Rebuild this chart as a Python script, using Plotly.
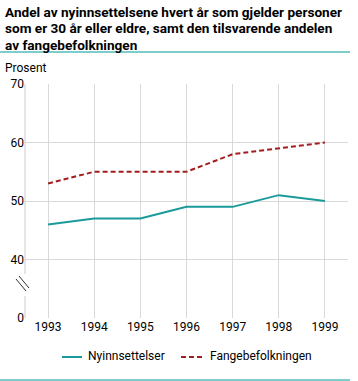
import plotly.graph_objects as go

years = [1993, 1994, 1995, 1996, 1997, 1998, 1999]
nyinnsettelser = [46, 47, 47, 49, 49, 51, 50]
fangebefolkningen = [53, 55, 55, 55, 58, 59, 60]
y_tickvals = [30, 40, 50, 60, 70]
y_ticktext = ["0", "40", "50", "60", "70"]
series_names = ["Nyinnsettelser", "Fangebefolkningen"]
title_lines = [
    "Andel av nyinnsettelsene hvert år som gjelder personer",
    "som er 30 år eller eldre, samt den tilsvarende andelen",
    "av fangebefolkningen",
]

W, H = 358, 381
L, R, T, B = 25, 10, 84, 63
PW, PH = W - L - R, H - T - B
FONT = "Roboto"
TEAL = "#1a9a9a"
RED = "#a31d1d"
DASH = "5px,3px"

def px_x(px):
    return (px - L) / PW

def px_y(py):
    return (H - B - py) / PH

def val_y(py):
    return 70 - (py - T) * 40 / PH

fig = go.Figure()
fig.add_trace(go.Scatter(x=years, y=nyinnsettelser, mode="lines", name=series_names[0],
                         line=dict(color=TEAL, width=2)))
fig.add_trace(go.Scatter(x=years, y=fangebefolkningen, mode="lines", name=series_names[1],
                         line=dict(color=RED, width=2, dash=DASH)))

shapes = []
# title separator and bottom line
shapes.append(dict(type="line", xref="paper", yref="paper", x0=px_x(0), x1=px_x(350),
                   y0=px_y(52), y1=px_y(52), line=dict(color="#7fcccc", width=2)))
shapes.append(dict(type="line", xref="paper", yref="paper", x0=px_x(0), x1=px_x(350),
                   y0=px_y(380), y1=px_y(380), line=dict(color="#7fcccc", width=2)))
# broken y axis line
shapes.append(dict(type="line", xref="paper", yref="y", x0=0, x1=0, y0=70, y1=val_y(274),
                   line=dict(color="#cccccc", width=1)))
shapes.append(dict(type="line", xref="paper", yref="y", x0=0, x1=0, y0=val_y(296), y1=30,
                   line=dict(color="#cccccc", width=1)))
# break marks
for dx in (0, 3):
    shapes.append(dict(type="line", xref="paper", yref="y",
                       x0=px_x(16 + dx), x1=px_x(26 + dx), y0=val_y(279 - dx), y1=val_y(291 - dx),
                       line=dict(color="#333333", width=1)))
# legend symbols
shapes.append(dict(type="line", xref="paper", yref="paper", x0=px_x(62), x1=px_x(82),
                   y0=px_y(357), y1=px_y(357), line=dict(color=TEAL, width=2)))
shapes.append(dict(type="line", xref="paper", yref="paper", x0=px_x(181), x1=px_x(202),
                   y0=px_y(357), y1=px_y(357), line=dict(color=RED, width=2, dash="5px,3px")))

annotations = []
for i, t in enumerate(title_lines):
    annotations.append(dict(text=t, xref="paper", yref="paper", x=px_x(3), y=px_y(12 + 16.5 * i),
                            xanchor="left", yanchor="middle", showarrow=False,
                            font=dict(family=FONT, size=13.6, color="#000000", weight="bold")))
annotations.append(dict(text="Prosent", xref="paper", yref="paper", x=px_x(3), y=px_y(68),
                        xanchor="left", yanchor="middle", showarrow=False,
                        font=dict(family=FONT, size=12, color="#000000")))
annotations.append(dict(text=series_names[0], xref="paper", yref="paper", x=px_x(86), y=px_y(356),
                        xanchor="left", yanchor="middle", showarrow=False,
                        font=dict(family=FONT, size=12, color="#000000")))
annotations.append(dict(text=series_names[1], xref="paper", yref="paper", x=px_x(208), y=px_y(356),
                        xanchor="left", yanchor="middle", showarrow=False,
                        font=dict(family=FONT, size=12, color="#000000")))

fig.update_layout(
    width=W, height=H,
    margin=dict(l=L, r=R, t=T, b=B),
    paper_bgcolor="white", plot_bgcolor="white",
    font=dict(family=FONT, size=12, color="#000000"),
    showlegend=False,
    shapes=shapes,
    annotations=annotations,
    xaxis=dict(range=[1992.5, 1999.5], tickvals=years, showgrid=True, gridcolor="#d9d9d9",
               zeroline=False, showline=False, ticks="", fixedrange=True, automargin=False),
    yaxis=dict(range=[30, 70], tickvals=y_tickvals, ticktext=y_ticktext, showgrid=True,
               gridcolor="#d9d9d9", zeroline=False, showline=False, ticks="", fixedrange=True,
               automargin=False),
)

fig.write_html("out.html", config={"displayModeBar": False},
               post_script="document.body.style.margin='0';document.body.style.overflow='hidden';")
